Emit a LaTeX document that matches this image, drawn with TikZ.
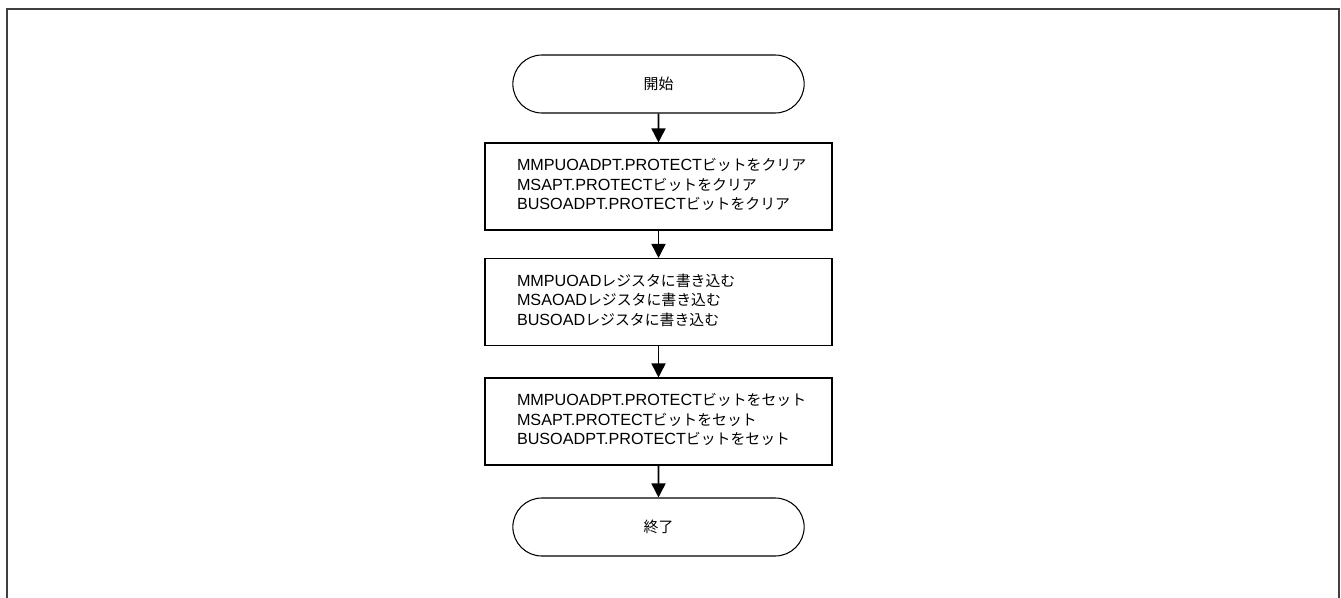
\documentclass[tikz,border=0pt]{standalone}
\usepackage{fontspec}
\setmainfont{Liberation Sans}
\newfontfamily\jp[Scale=0.92]{Noto Sans CJK JP}
\usetikzlibrary{arrows.meta,shapes.misc}
\newcommand\steplines[1]{\begin{tabular}{@{\hspace{0.64cm}}l@{}}#1\end{tabular}}
\begin{document}
\begin{tikzpicture}[
    every node/.style={font=\fontsize{9.2pt}{11.1pt}\selectfont},
    term/.style={draw, rounded rectangle, minimum width=6.06cm, minimum height=1.16cm, line width=0.6pt},
    proc/.style={draw, rectangle, minimum height=1.74cm, text width=6.94cm, inner xsep=0pt, line width=0.6pt},
    flow/.style={-{Triangle[width=0.28cm,length=0.28cm]}, line width=0.9pt}
  ]
    \useasboundingbox (0,0) rectangle (26.82,11.94);
    \draw [line width=1.2pt, black!75] (0.14,-0.3) -- (0.14,11.76) -- (26.78,11.76) -- (26.78,-0.3);
    % steps
    \node [term] (start) at (13.17,10.26) {\jp 開始};
    \node [proc] (clr) at (13.17,8.21) {\steplines{MMPUOADPT.PROTECT{\jp ビットをクリア}\\
        MSAPT.PROTECT{\jp ビットをクリア}\\
        BUSOADPT.PROTECT{\jp ビットをクリア}}};
    \node [proc] (wr) at (13.17,5.90) {\steplines{MMPUOAD{\jp レジスタに書き込む}\\
        MSAOAD{\jp レジスタに書き込む}\\
        BUSOAD{\jp レジスタに書き込む}}};
    \node [proc] (set) at (13.17,3.51) {\steplines{MMPUOADPT.PROTECT{\jp ビットをセット}\\
        MSAPT.PROTECT{\jp ビットをセット}\\
        BUSOADPT.PROTECT{\jp ビットをセット}}};
    \node [term] (stop) at (13.17,1.40) {\jp 終了};
    % arrows
    \draw [flow] (start) -- (clr);
    \draw [flow] (clr) -- (wr);
    \draw [flow] (wr) -- (set);
    \draw [flow] (set) -- (stop);
\end{tikzpicture}
\end{document}
